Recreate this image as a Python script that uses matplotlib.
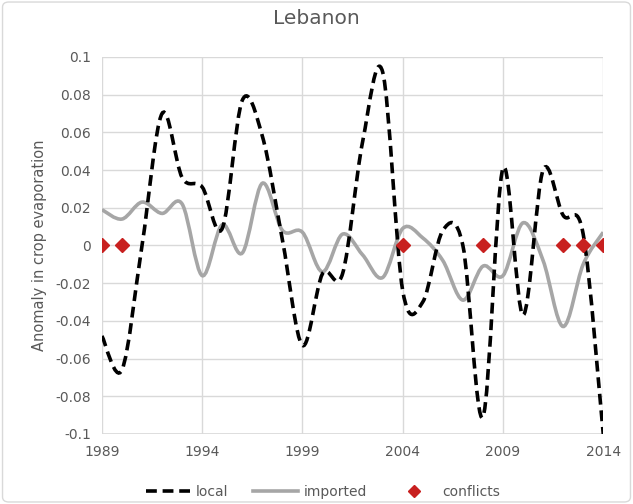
import matplotlib
matplotlib.use('Agg')
import matplotlib.pyplot as plt
import numpy as np
from matplotlib.path import Path
from matplotlib.patches import PathPatch
from matplotlib.lines import Line2D

# Data
years = list(range(1989, 2015))
local = [-0.048, -0.066, 0.0, 0.070, 0.036, 0.031, 0.009, 0.077, 0.058, 0.003,
         -0.053, -0.015, -0.015, 0.055, 0.092, -0.024, -0.030, 0.008, 0.0, -0.091,
         0.041, -0.037, 0.040, 0.016, 0.006, -0.100]
imported = [0.019, 0.014, 0.023, 0.017, 0.022, -0.016, 0.011, -0.004, 0.033, 0.008,
            0.007, -0.014, 0.006, -0.005, -0.017, 0.009, 0.004, -0.008, -0.029, -0.011,
            -0.016, 0.012, -0.008, -0.043, -0.010, 0.007]
conflict_years = [1989, 1990, 2004, 2008, 2012, 2013, 2014]
conflict_vals = [0, 0, 0, 0, 0, 0, 0]
xticks = [1989, 1994, 1999, 2004, 2009, 2014]


def smooth_path(xs, ys):
    # Excel-style smoothed line: cubic Bezier through every point
    p = np.column_stack([xs, ys]).astype(float)
    n = len(p)
    verts = [p[0]]
    codes = [Path.MOVETO]
    for i in range(n - 1):
        p0 = p[i - 1] if i > 0 else p[i]
        p3 = p[i + 2] if i + 2 < n else p[i + 1]
        c1 = p[i] + (p[i + 1] - p0) / 6.0
        c2 = p[i + 1] - (p3 - p[i]) / 6.0
        verts += [c1, c2, p[i + 1]]
        codes += [Path.CURVE4] * 3
    return Path(verts, codes)


fig = plt.figure(figsize=(6.33, 5.04), dpi=100)
ax = fig.add_axes([0.161, 0.139, 0.792, 0.748])

tick_color = '#595959'
grid_color = '#d9d9d9'
dash = (0, (3.0, 1.6))

ax.add_patch(PathPatch(smooth_path(years, imported), fill=False,
                       edgecolor='#a6a6a6', linewidth=2.6, zorder=2))
ax.add_patch(PathPatch(smooth_path(years, local), fill=False,
                       edgecolor='black', linewidth=2.6, linestyle=dash, zorder=3))
ax.plot(conflict_years, conflict_vals, linestyle='none', marker='D',
        markersize=7.5, color='#c8201f', zorder=4)

ax.set_xlim(1989, 2014)
ax.set_ylim(-0.1, 0.1)
ax.set_xticks(xticks)
ax.set_yticks(np.round(np.arange(-0.1, 0.101, 0.02), 2))
ax.yaxis.set_major_formatter(matplotlib.ticker.FuncFormatter(
    lambda v, _: '0' if abs(v) < 1e-9 else f'{v:g}'))
ax.tick_params(length=0, labelsize=10, colors=tick_color, pad=8)
ax.grid(True, color=grid_color, linewidth=1)
ax.set_axisbelow(True)
for s in ax.spines.values():
    s.set_visible(False)
ax.axvline(1989, color=grid_color, linewidth=1.2, zorder=1)
ax.axhline(-0.1, color=grid_color, linewidth=1.2, zorder=1)

ax.set_ylabel('Anomaly in crop evaporation', fontsize=10.5, color=tick_color, labelpad=6)
fig.text(0.5, 0.963, 'Lebanon', ha='center', va='center', fontsize=14.5, color='#595959')

handles = [
    Line2D([], [], color='black', linewidth=2.6, linestyle=dash),
    Line2D([], [], color='#a6a6a6', linewidth=2.6),
    Line2D([], [], color='#c8201f', marker='D', linestyle='none', markersize=6),
]
fig.legend(handles, ['local', 'imported', 'conflicts'], loc='center',
           bbox_to_anchor=(0.51, 0.024), ncol=3, frameon=False, fontsize=10,
           labelcolor=tick_color, handlelength=3.2, columnspacing=1.8, handletextpad=0.4)

fig.patches.append(matplotlib.patches.FancyBboxPatch(
    (0.004, 0.004), 0.992, 0.992, boxstyle='round,pad=0,rounding_size=0.01',
    transform=fig.transFigure, fill=False, edgecolor='#d9d9d9', linewidth=1))

fig.savefig('out.png', dpi=100)
